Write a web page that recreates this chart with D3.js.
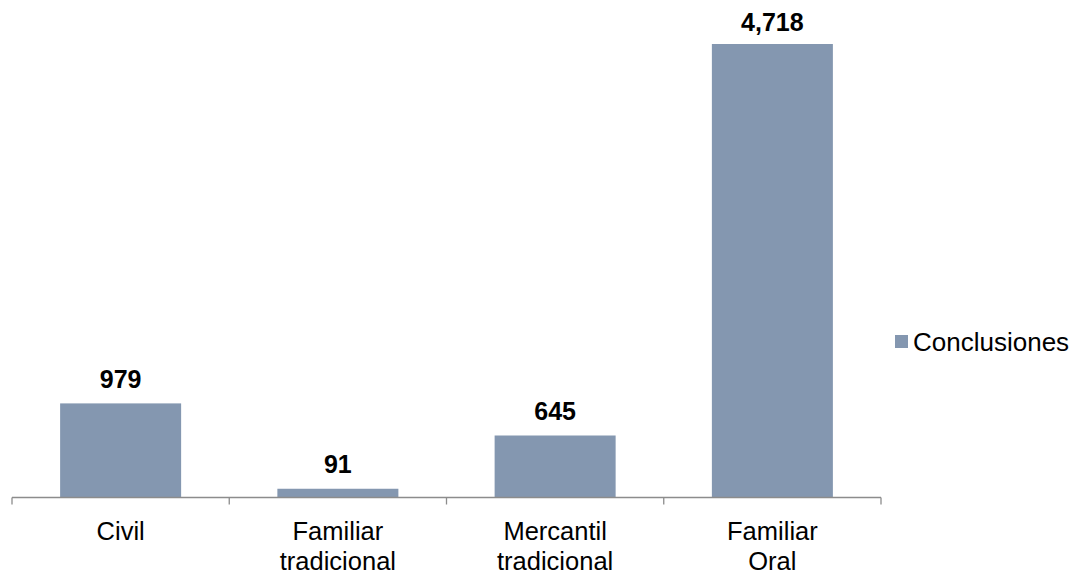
<!DOCTYPE html>
<html>
<head>
<meta charset="utf-8">
<script src="https://cdn.jsdelivr.net/npm/d3@7"></script>
<style>
  body { margin: 0; background: #fff; }
  svg { display: block; font-family: "Liberation Sans", Arial, sans-serif; }
</style>
</head>
<body>
<div id="chart"></div>
<script>
const categories = [["Civil"], ["Familiar", "tradicional"], ["Mercantil", "tradicional"], ["Familiar", "Oral"]];
const values = [979, 91, 645, 4718];
const seriesName = "Conclusiones";

const width = 1075, height = 573;
const plotLeft = 12, plotRight = 881, baseline = 497.5, plotTop = 44;
const barColor = "#8497b0";

const svg = d3.select("#chart").append("svg")
  .attr("width", width)
  .attr("height", height);

const x = d3.scaleBand()
  .domain(d3.range(categories.length))
  .range([plotLeft, plotRight])
  .paddingInner(0.443)
  .paddingOuter(0.2215);

const y = d3.scaleLinear()
  .domain([0, 4718])
  .range([baseline, plotTop]);

// bars
svg.append("g").selectAll("rect")
  .data(values)
  .join("rect")
  .attr("x", (d, i) => x(i))
  .attr("y", d => y(d))
  .attr("width", x.bandwidth())
  .attr("height", d => baseline - y(d))
  .attr("fill", barColor);

// value labels (kept inside the chart area at the top)
svg.append("g").selectAll("text")
  .data(values)
  .join("text")
  .attr("x", (d, i) => x(i) + x.bandwidth() / 2)
  .attr("y", d => Math.max(y(d) - 15.5, 31))
  .attr("text-anchor", "middle")
  .attr("font-size", "25px")
  .attr("font-weight", "bold")
  .attr("fill", "#000")
  .text(d => d3.format(",")(d));

// axis line + ticks between categories
const step = (plotRight - plotLeft) / categories.length;
const axis = svg.append("g").attr("stroke", "#8c8c8c").attr("stroke-width", 1.3);
axis.append("line")
  .attr("x1", plotLeft).attr("x2", plotRight)
  .attr("y1", baseline).attr("y2", baseline);
axis.selectAll("line.tick")
  .data(d3.range(categories.length + 1))
  .join("line")
  .attr("class", "tick")
  .attr("x1", i => plotLeft + i * step).attr("x2", i => plotLeft + i * step)
  .attr("y1", baseline).attr("y2", baseline + 7);

// category labels
const labels = svg.append("g").selectAll("text")
  .data(categories)
  .join("text")
  .attr("text-anchor", "middle")
  .attr("font-size", "25.5px")
  .attr("fill", "#000")
  .attr("transform", (d, i) => `translate(${plotLeft + (i + 0.5) * step},540)`);
labels.selectAll("tspan")
  .data(d => d)
  .join("tspan")
  .attr("x", 0)
  .attr("y", (d, j) => j * 29.5)
  .text(d => d);

// legend
const legend = svg.append("g").attr("transform", "translate(895,335)");
legend.append("rect")
  .attr("width", 13).attr("height", 13)
  .attr("fill", barColor);
legend.append("text")
  .attr("x", 18).attr("y", 16)
  .attr("font-size", "26px")
  .attr("fill", "#000")
  .text(seriesName);
</script>
</body>
</html>
